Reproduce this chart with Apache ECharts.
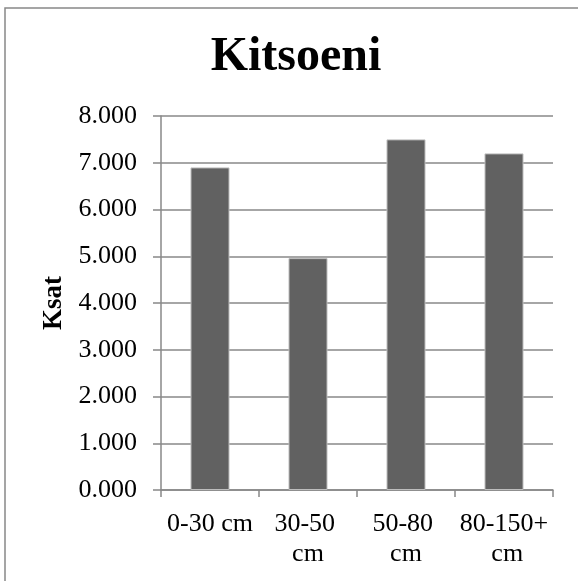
<!DOCTYPE html>
<html>
<head>
<meta charset="utf-8">
<script src="https://cdn.jsdelivr.net/npm/echarts@6/dist/echarts.min.js"></script>
<style>html,body{margin:0;padding:0;background:#fff}#c{width:578px;height:581px}</style>
</head>
<body>
<div id="c"></div>
<script>
const titleText = 'Kitsoeni';
const categories = ['0-30 cm', '30-50 cm', '50-80 cm', '80-150+ cm'];
const ksatValues = [6.9, 4.96, 7.5, 7.2];
const yAxisName = 'Ksat';

const FONT = '"Liberation Serif", "Times New Roman", serif';
const chart = echarts.init(document.getElementById('c'), null, {renderer: 'canvas'});
chart.setOption({
  animation: false,
  backgroundColor: '#fff',
  title: {
    text: titleText,
    left: 291,
    textAlign: 'center',
    top: 29,
    textStyle: {fontFamily: FONT, fontSize: 48, fontWeight: 'bold', color: '#000'}
  },
  graphic: [{
    type: 'rect', shape: {x: 5, y: 8, width: 700, height: 700},
    style: {fill: 'none', stroke: '#888', lineWidth: 1.5}, silent: true
  }],
  grid: {left: 161, right: 25, top: 116, bottom: 91, containLabel: false},
  xAxis: {
    type: 'category',
    data: categories,
    axisLine: {show: true, lineStyle: {color: '#888', width: 1.5}},
    axisTick: {show: true, alignWithLabel: false, length: 7, lineStyle: {color: '#888', width: 1.5}},
    axisLabel: {
      fontFamily: FONT, fontSize: 26, color: '#000', margin: 19,
      lineHeight: 30, width: 94, overflow: 'break', interval: 0
    }
  },
  yAxis: {
    type: 'value',
    min: 0, max: 8, interval: 1,
    name: yAxisName,
    nameLocation: 'middle',
    nameGap: 89,
    nameRotate: 90,
    nameTextStyle: {fontFamily: FONT, fontSize: 27, fontWeight: 'bold', color: '#000'},
    axisLine: {show: true, lineStyle: {color: '#888', width: 1.5}},
    axisTick: {show: true, length: 8, lineStyle: {color: '#888', width: 1.5}},
    splitLine: {show: true, lineStyle: {color: '#888', width: 1.5}},
    axisLabel: {
      fontFamily: FONT, fontSize: 26, color: '#000', margin: 24,
      formatter: v => v.toFixed(3)
    }
  },
  series: [{
    type: 'bar',
    data: ksatValues,
    barWidth: 39,
    itemStyle: {color: '#616161', borderColor: '#bdbdbd', borderWidth: 1}
  }]
});
</script>
</body>
</html>
